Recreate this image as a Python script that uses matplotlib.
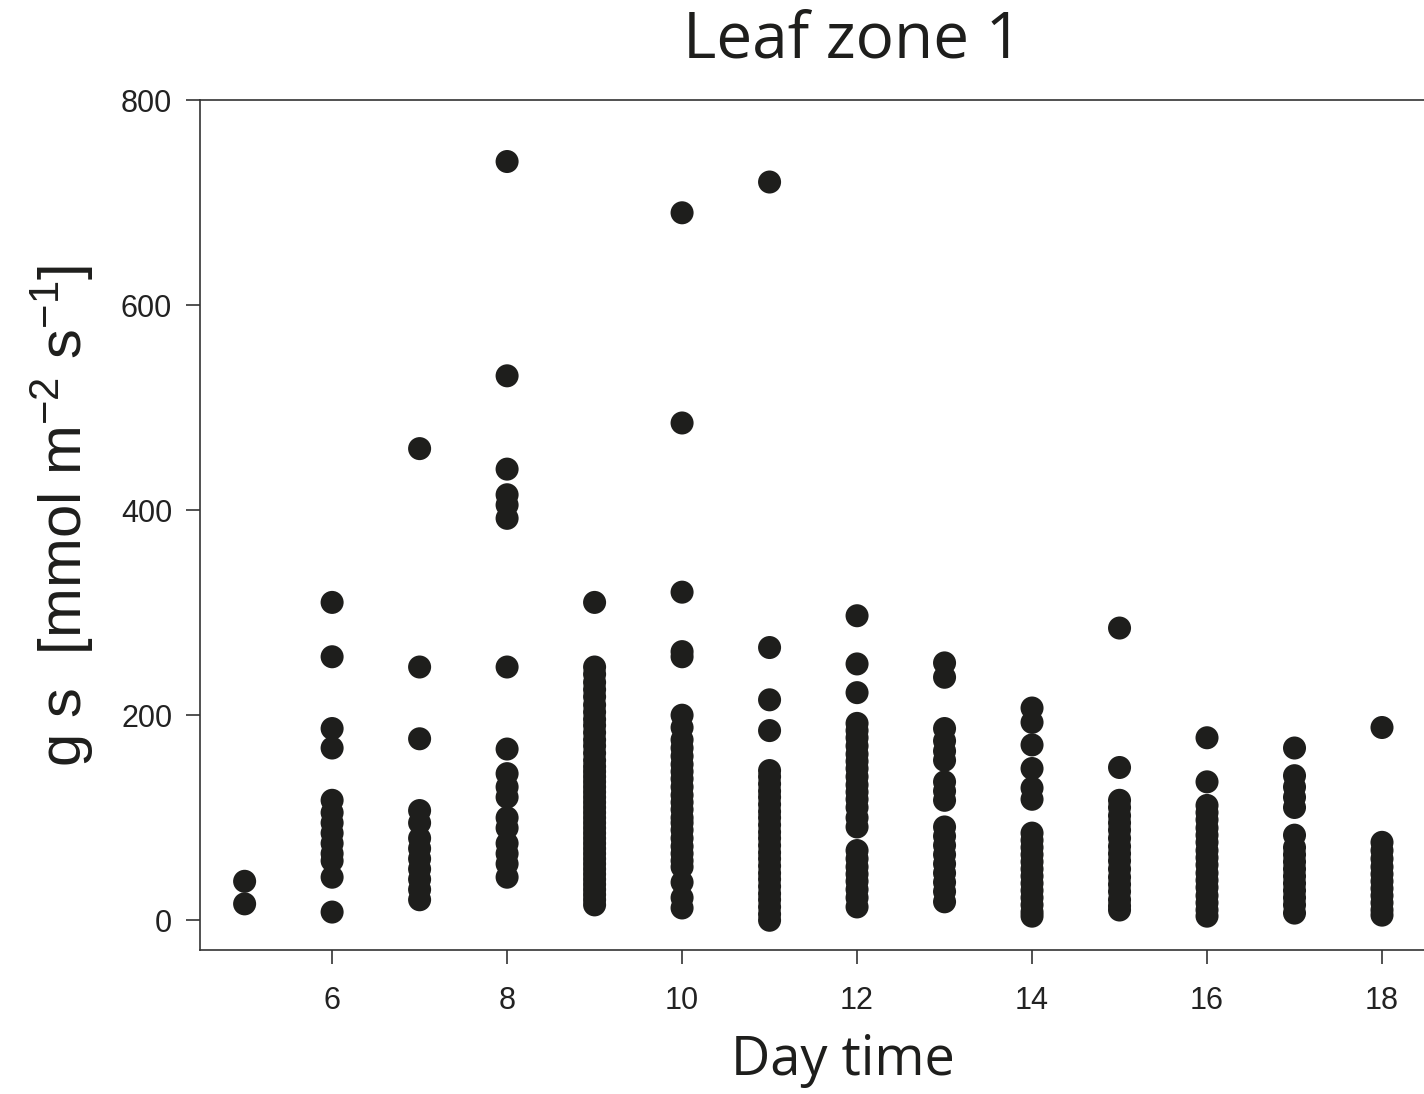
import matplotlib
matplotlib.use("Agg")
import matplotlib.pyplot as plt

plt.rcParams['font.family'] = ['Liberation Sans', 'DejaVu Sans']
plt.rcParams['mathtext.fontset'] = 'custom'
plt.rcParams['mathtext.rm'] = 'Liberation Sans'
plt.rcParams['mathtext.it'] = 'Liberation Sans:italic'

# ---- data ----
hours = [5, 6, 7, 8, 9, 10, 11, 12, 13, 14, 15, 16, 17, 18]
gs_05 = [38, 16]
gs_06 = [310, 257, 187, 168, 117, 105, 95, 85, 75, 65, 58, 42, 8]
gs_07 = [460, 247, 177, 107, 95, 80, 70, 60, 50, 40, 30, 20]
gs_08 = [740, 531, 440, 415, 405, 392, 247, 167, 143, 130, 120, 100, 90, 75, 65, 55, 42]
gs_09 = [310, 247, 240, 232, 225, 218, 210, 203, 196, 190, 183, 176, 170, 163, 156,
         150, 145, 140, 135, 130, 125, 120, 115, 110, 105, 100, 95, 90, 85, 80, 75,
         70, 65, 60, 55, 50, 45, 40, 35, 30, 25, 20, 15]
gs_10 = [690, 485, 320, 262, 257, 200, 188, 176, 168, 160, 152, 145, 138, 130, 122,
         115, 108, 100, 95, 88, 80, 72, 65, 58, 52, 37, 22, 12]
gs_11 = [720, 266, 215, 185, 146, 140, 133, 126, 120, 113, 106, 100, 93, 86, 80, 73,
         66, 60, 53, 46, 40, 33, 26, 20, 13, 6, 0]
gs_12 = [297, 250, 222, 192, 185, 178, 170, 162, 155, 148, 140, 132, 125, 118, 110,
         100, 91, 68, 60, 52, 45, 38, 30, 22, 13]
gs_13 = [251, 237, 187, 175, 165, 156, 135, 126, 117, 91, 82, 73, 64, 55, 46, 37, 28, 18]
gs_14 = [207, 193, 171, 148, 129, 118, 85, 78, 71, 64, 57, 50, 43, 36, 29, 22, 15, 8, 4]
gs_15 = [285, 149, 117, 110, 102, 95, 88, 80, 72, 65, 58, 50, 42, 35, 28, 20, 14, 10]
gs_16 = [178, 135, 112, 105, 98, 90, 83, 76, 68, 61, 54, 46, 39, 32, 24, 17, 10, 4]
gs_17 = [168, 141, 130, 120, 110, 83, 71, 64, 57, 50, 43, 36, 29, 22, 15, 7]
gs_18 = [188, 76, 68, 60, 52, 45, 38, 31, 24, 17, 10, 5]
gs_all = [gs_05, gs_06, gs_07, gs_08, gs_09, gs_10, gs_11, gs_12, gs_13, gs_14,
          gs_15, gs_16, gs_17, gs_18]

x_ticks = [6, 8, 10, 12, 14, 16, 18]
y_ticks = [0, 200, 400, 600, 800]

W, H = 1424, 1094
fig = plt.figure(figsize=(W / 100, H / 100), dpi=100)
ax = fig.add_axes([200 / W, 1 - 950 / H, (W - 200) / W, (950 - 100) / H])

dot = '#1e1e1c'
for h, vals in zip(hours, gs_all):
    ax.scatter([h] * len(vals), vals, s=275, color=dot, edgecolors='none', zorder=3)

ax.set_xlim(4.49, 18.48)
ax.set_ylim(-29, 800)
ax.set_xticks(x_ticks)
ax.set_yticks(y_ticks)
ax.spines['right'].set_visible(False)
for sp in ['left', 'bottom', 'top']:
    ax.spines[sp].set_linewidth(1.2)
    ax.spines[sp].set_color('#333333')
ax.tick_params(direction='out', length=10, width=1.2, color='#333333',
               labelsize=22, labelcolor='#222222')
ax.tick_params(axis='x', pad=16)
ax.tick_params(axis='y', pad=10)

fig.text(853 / W, 1 - 40 / H, 'Leaf zone 1', ha='center', va='center',
         fontsize=46, family=['Open Sans', 'DejaVu Sans'], color='#1e1e1c')
fig.text(843 / W, 1 - 1060 / H, 'Day time', ha='center', va='center',
         fontsize=39, family=['Open Sans', 'DejaVu Sans'], color='#1e1e1c')
fig.text(62 / W, 1 - 516 / H, 'g s  [mmol m$^{-2}$ s$^{-1}$]', ha='center', va='center',
         rotation=90, fontsize=43, color='#1e1e1c')

fig.savefig('out.png', dpi=100)
